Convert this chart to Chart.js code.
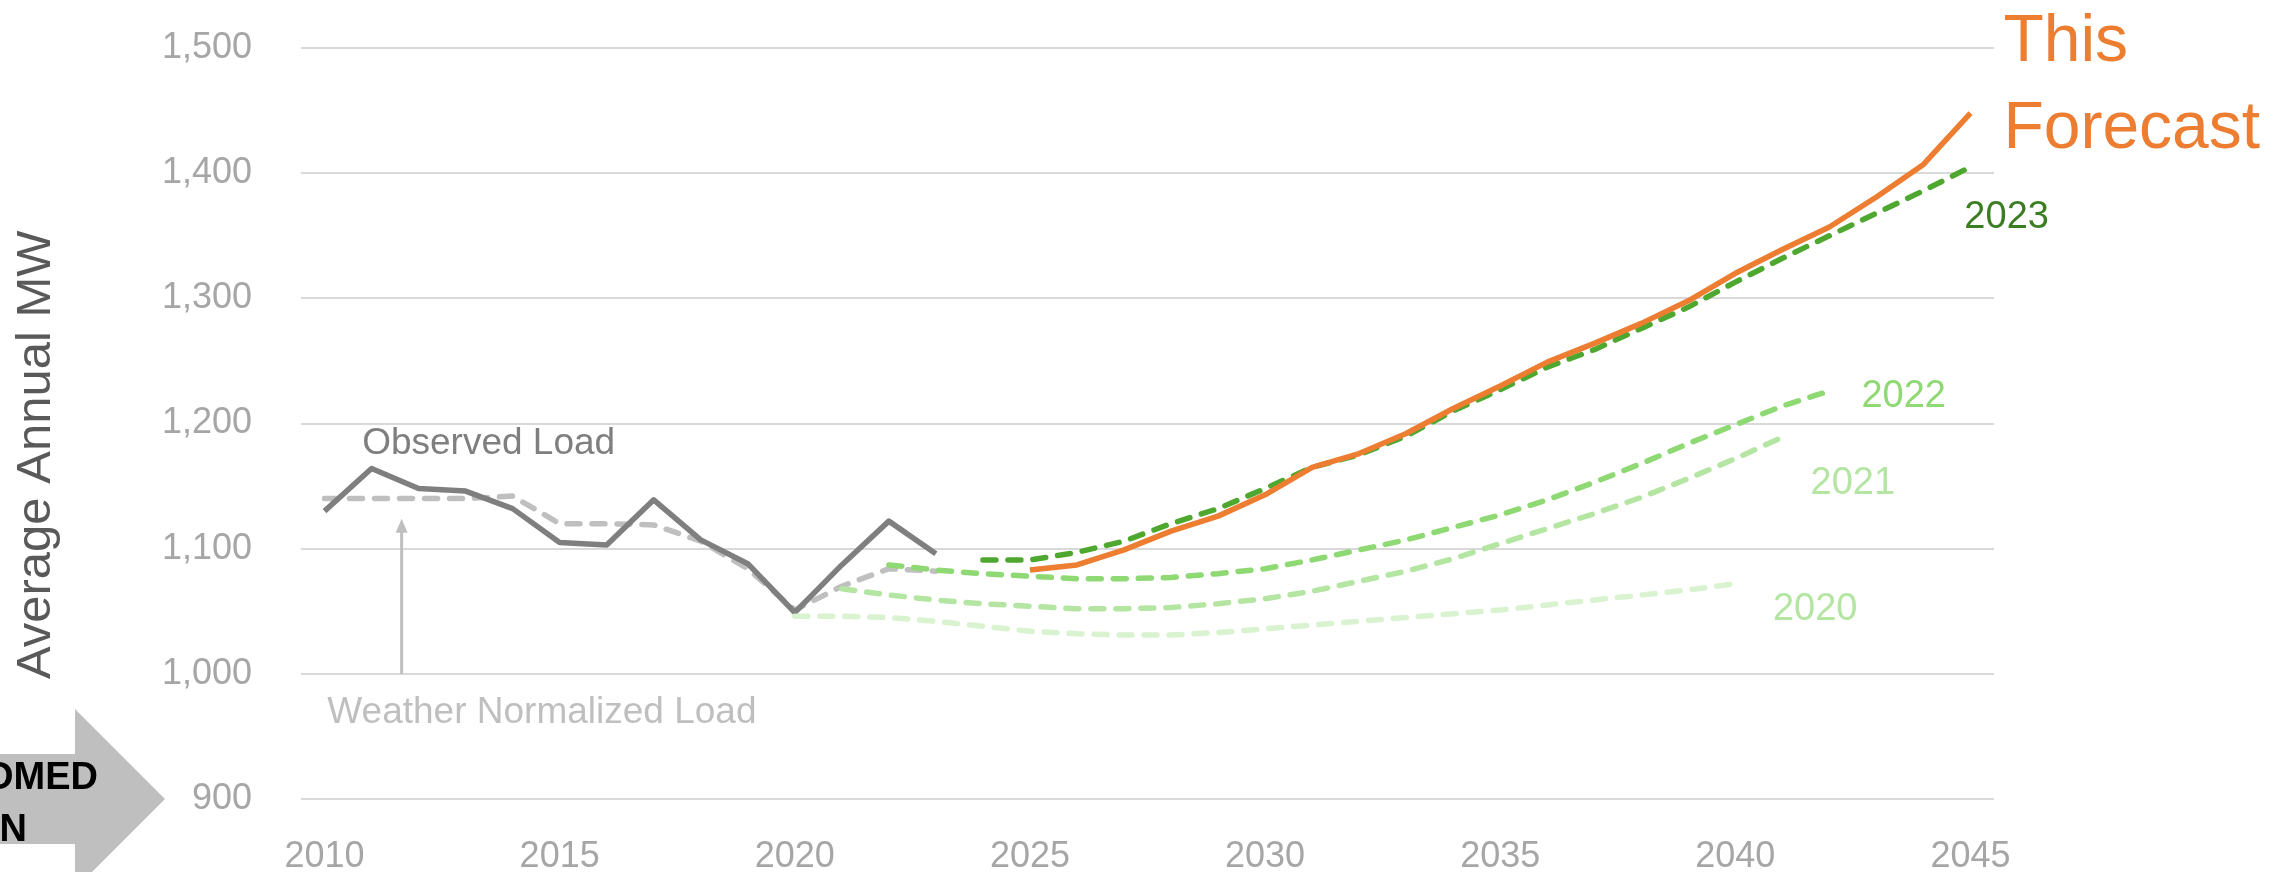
<!DOCTYPE html>
<html>
<head>
<meta charset="utf-8">
<script src="https://cdn.jsdelivr.net/npm/chart.js@4.4.1/dist/chart.umd.min.js"></script>
<style>
  html, body { margin: 0; padding: 0; background: #fff; }
  #wrap { width: 2287px; height: 872px; }
</style>
</head>
<body>
<div id="wrap"><canvas id="loadChart" width="2287" height="872"></canvas></div>
<script>
// Categories (one per year) and the years that get a tick label
const years = [2010, 2011, 2012, 2013, 2014, 2015, 2016, 2017, 2018, 2019,
               2020, 2021, 2022, 2023, 2024, 2025, 2026, 2027, 2028, 2029,
               2030, 2031, 2032, 2033, 2034, 2035, 2036, 2037, 2038, 2039,
               2040, 2041, 2042, 2043, 2044, 2045];
const xTickYears = [2010, 2015, 2020, 2025, 2030, 2035, 2040, 2045];
const yTicks = [900, 1000, 1100, 1200, 1300, 1400, 1500];

// Average annual MW, each series starts at the year noted
const observedLoad = [1130, 1164, 1148, 1146, 1132, 1105, 1103, 1139, 1107, 1088, 1049, 1087, 1122, 1096];      // 2010-2023
const weatherNormalized = [1140, 1140, 1140, 1140, 1142, 1120, 1120, 1119, 1106, 1084, 1051, 1070, 1084, 1082]; // 2010-2023
const forecast2020 = [1046, 1046, 1045, 1042, 1038, 1034, 1032, 1031, 1031, 1033, 1036, 1039, 1042, 1045, 1048, 1051, 1055, 1059, 1063, 1067, 1072]; // 2020-2040
const forecast2021 = [1068, 1063, 1059, 1056, 1054, 1052, 1052, 1053, 1056, 1060, 1066, 1074, 1082, 1092, 1104, 1116, 1128, 1141, 1156, 1172, 1189]; // 2021-2041
const forecast2022 = [1087, 1083, 1080, 1078, 1076, 1076, 1077, 1080, 1084, 1091, 1099, 1107, 1117, 1127, 1139, 1153, 1168, 1184, 1199, 1214, 1226]; // 2022-2042
const forecast2023 = [1091, 1091, 1097, 1106, 1120, 1132, 1148, 1165, 1175, 1190, 1210, 1227, 1245, 1259, 1276, 1293, 1313, 1332, 1350, 1368, 1386, 1405]; // 2024-2045
const thisForecast = [1083, 1087, 1099, 1114, 1126, 1143, 1165, 1176, 1192, 1212, 1230, 1249, 1264, 1280, 1298, 1320, 1339, 1357, 1381, 1407, 1448]; // 2025-2045

const FONT = '"Liberation Sans", Arial, sans-serif';

// put a series on the full year axis, nulls outside its range
function onYears(startYear, values) {
    const out = years.map(() => null);
    values.forEach((v, i) => { out[years.indexOf(startYear) + i] = v; });
    return out;
}

// text notes drawn on the chart, anchored at (year, MW)
const notes = [
    { text: 'Observed Load', year: 2010.8, mw: 1176, color: '#7f7f7f', size: 37 },
    { text: 'Weather Normalized Load', year: 2010.06, mw: 961, color: '#bfbfbf', size: 37 },
    { text: '2023', year: 2044.87, mw: 1356, color: '#3b7d23', size: 38 },
    { text: '2022', year: 2042.68, mw: 1213, color: '#8ed973', size: 38 },
    { text: '2021', year: 2041.6, mw: 1144, color: '#b4e5a2', size: 38 },
    { text: '2020', year: 2040.8, mw: 1043, color: '#b4e5a2', size: 38 },
    { text: 'This', year: 2045.7, mw: 1490, color: '#ed7d31', size: 66 },
    { text: 'Forecast', year: 2045.7, mw: 1420, color: '#ed7d31', size: 66 }
];
const arrowNote = { year: 2011.64, from: 1000, to: 1124 };

const notesPlugin = {
    id: 'notes',
    afterDatasetsDraw(chart) {
        const ctx = chart.ctx;
        const xs = chart.scales.x, ys = chart.scales.y;
        const px = yr => xs.getPixelForValue(yr - years[0]);
        ctx.save();
        ctx.textAlign = 'left';
        ctx.textBaseline = 'alphabetic';
        notes.forEach(n => {
            ctx.font = n.size + 'px ' + FONT;
            ctx.fillStyle = n.color;
            ctx.fillText(n.text, px(n.year), ys.getPixelForValue(n.mw));
        });

        // little arrow pointing at the weather normalized line
        const ax = px(arrowNote.year);
        const y0 = ys.getPixelForValue(arrowNote.from);
        const y1 = ys.getPixelForValue(arrowNote.to);
        ctx.strokeStyle = '#bfbfbf';
        ctx.fillStyle = '#bfbfbf';
        ctx.lineWidth = 3;
        ctx.beginPath();
        ctx.moveTo(ax, y0);
        ctx.lineTo(ax, y1 + 10);
        ctx.stroke();
        ctx.beginPath();
        ctx.moveTo(ax, y1);
        ctx.lineTo(ax - 6, y1 + 14);
        ctx.lineTo(ax + 6, y1 + 14);
        ctx.closePath();
        ctx.fill();

        // axis title
        ctx.font = '49px ' + FONT;
        ctx.fillStyle = '#595959';
        ctx.textAlign = 'center';
        ctx.translate(50, ys.getPixelForValue(1175));
        ctx.rotate(-Math.PI / 2);
        ctx.fillText('Average Annual MW', 0, 0);
        ctx.restore();

        // grey "zoomed in" arrow cut off at the left edge
        ctx.save();
        const tipY = ys.getPixelForValue(900);
        ctx.fillStyle = '#bfbfbf';
        ctx.beginPath();
        ctx.moveTo(0, tipY - 45);
        ctx.lineTo(75, tipY - 45);
        ctx.lineTo(75, tipY - 90);
        ctx.lineTo(165, tipY);
        ctx.lineTo(75, tipY + 90);
        ctx.lineTo(75, tipY + 45);
        ctx.lineTo(0, tipY + 45);
        ctx.closePath();
        ctx.fill();
        ctx.fillStyle = '#000';
        ctx.font = 'bold 38px ' + FONT;
        ctx.textAlign = 'right';
        ctx.fillText('ZOOMED', 98, tipY - 10);
        ctx.fillText('IN', 27, tipY + 42);
        ctx.restore();
    }
};

const dashed = (color) => ({
    borderColor: color,
    borderWidth: 5.5,
    borderDash: [13, 12],
    borderCapStyle: 'round'
});

new Chart(document.getElementById('loadChart'), {
    type: 'line',
    data: {
        labels: years.map(String),
        datasets: [
            { label: 'This Forecast', data: onYears(2025, thisForecast), borderColor: '#ed7d31', borderWidth: 5.5 },
            Object.assign({ label: '2023', data: onYears(2024, forecast2023) }, dashed('#4ea72e')),
            Object.assign({ label: '2022', data: onYears(2022, forecast2022) }, dashed('#8ed973')),
            Object.assign({ label: '2021', data: onYears(2021, forecast2021) }, dashed('#b4e5a2')),
            Object.assign({ label: '2020', data: onYears(2020, forecast2020) }, dashed('#d9f2d0')),
            { label: 'Observed Load', data: onYears(2010, observedLoad), borderColor: '#7f7f7f', borderWidth: 5.5 },
            Object.assign({ label: 'Weather Normalized Load', data: onYears(2010, weatherNormalized) }, dashed('#bfbfbf'))
        ]
    },
    options: {
        responsive: false,
        animation: false,
        layout: { padding: { left: 0, top: 48, right: 293, bottom: 0 } },
        elements: {
            point: { radius: 0, hoverRadius: 0 },
            line: { tension: 0, borderJoinStyle: 'round', fill: false }
        },
        scales: {
            x: {
                offset: true,
                grid: { display: false, drawTicks: false },
                border: { display: false },
                ticks: {
                    autoSkip: false,
                    maxRotation: 0,
                    padding: 36,
                    color: '#a6a6a6',
                    font: { family: FONT, size: 36 },
                    callback: (val, i) => xTickYears.includes(years[i]) ? String(years[i]) : ''
                },
                afterFit: s => { s.height = 73; }
            },
            y: {
                min: yTicks[0],
                max: yTicks[yTicks.length - 1],
                grid: { color: '#d9d9d9', lineWidth: 2, drawTicks: false },
                border: { display: false },
                ticks: {
                    stepSize: 100,
                    padding: 49,
                    color: '#a6a6a6',
                    font: { family: FONT, size: 36 },
                    callback: v => v.toLocaleString('en-US')
                },
                // fixed axis width; the tick padding should not push the plot down
                afterFit: s => { s.width = 301; s.paddingTop = 0; s.paddingBottom = 0; }
            }
        },
        plugins: {
            legend: { display: false },
            tooltip: { enabled: false }
        }
    },
    plugins: [notesPlugin]
});
</script>
</body>
</html>
